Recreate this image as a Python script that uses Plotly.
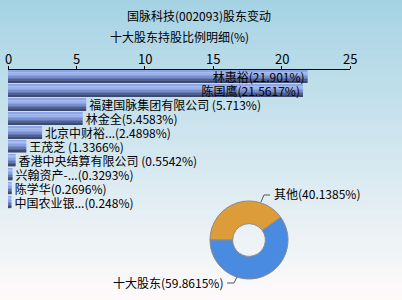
import plotly.graph_objects as go

# ---- data ----
holders = ["林惠裕", "陈国鹰", "福建国脉集团有限公司", "林金全", "北京中财裕...",
           "王茂芝", "香港中央结算有限公司", "兴翰资产-...", "陈学华", "中国农业银..."]
pcts = [21.901, 21.5617, 5.713, 5.4583, 2.4898, 1.3366, 0.5542, 0.3293, 0.2696, 0.248]
bar_labels = ["林惠裕(21.901%)", "陈国鹰(21.5617%)", "福建国脉集团有限公司 (5.713%)",
              "林金全(5.4583%)", "北京中财裕...(2.4898%)", "王茂芝 (1.3366%)",
              "香港中央结算有限公司 (0.5542%)", "兴翰资产-...(0.3293%)",
              "陈学华(0.2696%)", "中国农业银...(0.248%)"]
pie_labels = ["其他", "十大股东"]
pie_values = [40.1385, 59.8615]
x_ticks = [0, 5, 10, 15, 20, 25]

FONT = "Noto Sans CJK SC"
W, H = 402, 300

fig = go.Figure()

# bar gradient stripes (top -> bottom)
stripe_colors = ['#8ea6e6', '#a6bcf0', '#9cb2ec', '#8aa2e0', '#7890d0',
                 '#6678b4', '#52618e', '#3e4a6c']
bw = 0.86
n = len(stripe_colors)
for i, c in enumerate(stripe_colors):
    fig.add_trace(go.Bar(
        x=pcts, y=holders, orientation='h',
        width=bw / n * 1.08, offset=-bw / 2 + i * bw / n,
        marker=dict(color=c, line=dict(width=0)),
        hoverinfo='skip', showlegend=False, xaxis='x', yaxis='y'))

# text trace
positions = ['inside' if v > 15 else 'outside' for v in pcts]
fig.add_trace(go.Bar(
    x=pcts, y=holders, orientation='h', width=bw,
    marker=dict(color='rgba(0,0,0,0)', line=dict(width=0)),
    text=bar_labels, textposition=positions, insidetextanchor='end',
    textfont=dict(family=FONT, size=12, color='#000000'),
    insidetextfont=dict(family=FONT, size=12, color='#000000'),
    outsidetextfont=dict(family=FONT, size=12, color='#000000'),
    constraintext='none', cliponaxis=False,
    hoverinfo='skip', showlegend=False))

# donut
fig.add_trace(go.Pie(
    labels=pie_labels, values=pie_values, sort=False, direction='counterclockwise',
    rotation=-90, hole=0.42, textinfo='none', showlegend=False,
    marker=dict(colors=['#dc9c3a', '#4a8be2'], line=dict(color='#8a8a8a', width=1)),
    domain=dict(x=[210 / W, 288 / W], y=[1 - 279 / H, 1 - 201 / H])))

# background gradient
shapes = []
N = 60
top = (166, 211, 228)
bot = (254, 250, 250)
for k in range(N):
    t = k / (N - 1)
    col = tuple(int(round(top[j] + (bot[j] - top[j]) * t)) for j in range(3))
    shapes.append(dict(type='rect', xref='paper', yref='paper', layer='below',
                       x0=0, x1=1, y0=1 - (k + 1) / N - 0.002, y1=1 - k / N,
                       fillcolor='rgb(%d,%d,%d)' % col, line=dict(width=0)))

# leader lines
def px(x, y):
    return x / W, 1 - y / H

line_pts = [[(261, 202), (264, 195), (270, 195)], [(237, 277), (234, 283), (227, 283)]]
for pts in line_pts:
    path = 'M ' + ' L '.join('%f %f' % px(*p) for p in pts)
    shapes.append(dict(type='path', xref='paper', yref='paper', path=path,
                       line=dict(color='#555555', width=1)))

pie_texts = ["%s(%s%%)" % (l, v) for l, v in zip(pie_labels, pie_values)]
annotations = [
    dict(text=pie_texts[0], x=272 / W, y=1 - 193 / H, xref='paper', yref='paper',
         xanchor='left', yanchor='middle', showarrow=False,
         font=dict(family=FONT, size=12, color='#000')),
    dict(text=pie_texts[1], x=225 / W, y=1 - 282 / H, xref='paper', yref='paper',
         xanchor='right', yanchor='middle', showarrow=False,
         font=dict(family=FONT, size=12, color='#000')),
    dict(text="国脉科技(002093)股东变动", x=199 / W, y=1 - 15 / H, xref='paper', yref='paper',
         xanchor='center', yanchor='middle', showarrow=False,
         font=dict(family=FONT, size=12, color='#000')),
    dict(text="十大股东持股比例明细(%)", x=179 / W, y=1 - 37 / H, xref='paper', yref='paper',
         xanchor='center', yanchor='middle', showarrow=False,
         font=dict(family=FONT, size=12, color='#000')),
]
for tv in x_ticks:
    annotations.append(dict(text=str(tv), x=tv, xref='x', y=1 - 58 / H, yref='paper',
                            xanchor='center', yanchor='middle', showarrow=False,
                            font=dict(family=FONT, size=13, color='#000')))

fig.update_layout(
    width=W, height=H, margin=dict(l=0, r=0, t=0, b=0),
    paper_bgcolor='rgba(0,0,0,0)', plot_bgcolor='rgba(0,0,0,0)',
    barmode='overlay', shapes=shapes, annotations=annotations,
    xaxis=dict(domain=[8 / W, 350 / W], range=[0, 25], side='top', tickvals=x_ticks,
               ticks='outside', ticklen=3, tickcolor='#000', showline=True,
               linecolor='#000', linewidth=1, showgrid=False, zeroline=False,
               showticklabels=False, fixedrange=True),
    yaxis=dict(domain=[1 - 209 / H, 1 - 70 / H], autorange='reversed',
               showticklabels=False, showgrid=False, zeroline=False, showline=False,
               ticks='', fixedrange=True),
)

fig.write_html("out.html", config=dict(displayModeBar=False))
